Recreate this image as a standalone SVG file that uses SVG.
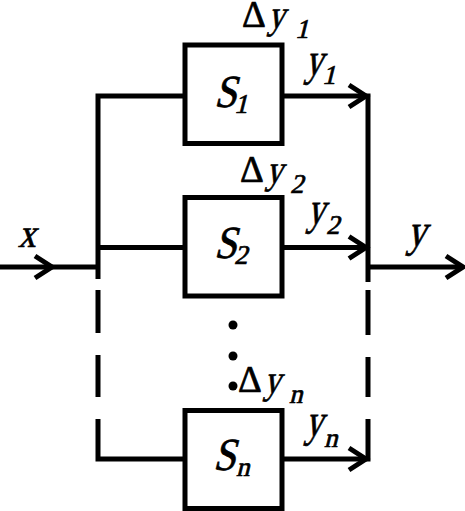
<svg xmlns="http://www.w3.org/2000/svg" width="465" height="511" viewBox="0 0 465 511">
<style>
.ln{fill:none;stroke:#000;stroke-width:5;stroke-linejoin:miter;stroke-linecap:butt}
.box{fill:#fff;stroke:#000;stroke-width:5}
.ar{fill:none;stroke:#000;stroke-width:5;stroke-linejoin:miter}
</style>
<rect width="465" height="511" fill="#fff"/>
<g id="connectors">
<path class="ln" d="M0,267 H98"/>
<path class="ln" d="M184,96 H98 V279"/>
<path class="ln" d="M98,247.5 H185"/>
<path class="ln" d="M98,290 V333 M98,355 V397"/>
<path class="ln" d="M98,419 V459 H185"/>
<path class="ln" d="M282,96 H368 V282"/>
<path class="ln" d="M282,247.5 H368"/>
<path class="ln" d="M368,290 V335 M368,357 V397"/>
<path class="ln" d="M282,459 H368 V419"/>
<path class="ln" d="M368,267 H463"/>
<path class="ar" d="M35,256 L52,267 L35,278"/>
<path class="ar" d="M446,256 L463,267 L446,278"/>
<path class="ar" d="M349,85 L366,96 L349,107"/>
<path class="ar" d="M349,236.5 L366,247.5 L349,258.5"/>
<path class="ar" d="M349,448 L366,459 L349,470"/>
</g>
<g font-family="Liberation Serif, Times New Roman, serif" fill="#000" stroke="#000" stroke-width="0.7">
<g id="n1">
<rect class="box" x="185" y="45" width="97" height="98.5"/>
<text font-size="46" transform="translate(214,107) skewX(-14) scale(0.88,1)">S</text>
<text font-size="27" transform="translate(234,113) skewX(-14)">1</text>
<text font-size="37" x="242" y="27">Δ</text>
<text font-size="40" transform="translate(268,28) skewX(-14) scale(0.82,1)">y</text>
<text font-size="27" transform="translate(295,38) skewX(-14)">1</text>
<text font-size="46" transform="translate(305,75) skewX(-14) scale(0.76,1)">y</text>
<text font-size="27" transform="translate(322,84) skewX(-14)">1</text>
</g>
<g id="n2">
<rect class="box" x="185" y="197.5" width="97" height="98.5"/>
<text font-size="46" transform="translate(214,258) skewX(-14) scale(0.88,1)">S</text>
<text font-size="27" transform="translate(234,264) skewX(-14)">2</text>
<text font-size="37" x="240" y="182">Δ</text>
<text font-size="40" transform="translate(266,183) skewX(-14) scale(0.82,1)">y</text>
<text font-size="27" transform="translate(290,193) skewX(-14)">2</text>
<text font-size="46" transform="translate(307,224) skewX(-14) scale(0.76,1)">y</text>
<text font-size="27" transform="translate(326,234) skewX(-14)">2</text>
</g>
<g id="nn">
<rect class="box" x="185" y="410.5" width="97" height="98"/>
<text font-size="46" transform="translate(213,470) skewX(-14) scale(0.88,1)">S</text>
<text font-size="27" transform="translate(236,476) skewX(-14)">n</text>
<text font-size="37" x="238" y="392">Δ</text>
<text font-size="40" transform="translate(264,393) skewX(-14) scale(0.82,1)">y</text>
<text font-size="27" transform="translate(289,403) skewX(-14)">n</text>
<text font-size="46" transform="translate(305,436) skewX(-14) scale(0.76,1)">y</text>
<text font-size="27" transform="translate(324,447) skewX(-14)">n</text>
</g>
<g id="labels">
<text font-size="40" transform="translate(18,247) skewX(-14) scale(0.88,1)">x</text>
<text font-size="46" transform="translate(407,246) skewX(-14) scale(0.82,1)">y</text>
</g>
</g>
<g id="dots">
<circle cx="233" cy="325" r="4.5"/>
<circle cx="233" cy="356" r="4.5"/>
<circle cx="233" cy="386" r="4.5"/>
</g>
</svg>
